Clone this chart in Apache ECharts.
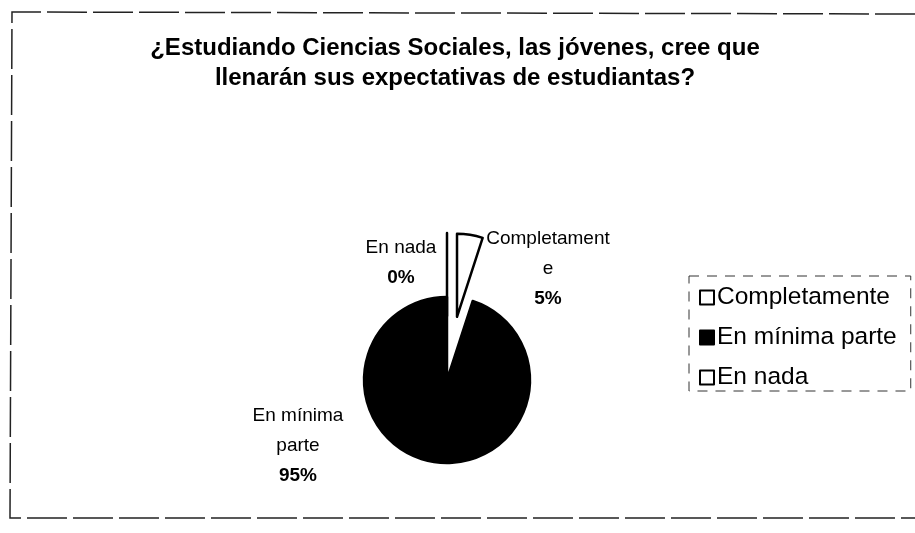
<!DOCTYPE html>
<html>
<head>
<meta charset="utf-8">
<script src="https://cdn.jsdelivr.net/npm/echarts@6/dist/echarts.min.js"></script>
<style>
  html, body { margin: 0; padding: 0; background: #fff; }
  #chart { width: 915px; height: 533px; }
</style>
</head>
<body>
<div id="chart"></div>
<script>
  // datos del gráfico
  var categories = ['Completamente', 'En mínima parte', 'En nada'];
  var values = [5, 95, 0];
  var labelNames = ['Completament\ne', 'En mínima\nparte', 'En nada'];
  var sliceColors = ['#ffffff', '#000000', '#ffffff'];
  var exploded = [true, false, true];

  var labelPos = [[548, 269], [298, 446], [401, 263]];

  var myChart = echarts.init(document.getElementById('chart'));
  var font = '"Liberation Sans", Arial, sans-serif';

  var pieCenter = [447, 380];
  var explodeDist = 64;
  var total = values.reduce(function (a, b) { return a + b; }, 0);

  // centro desplazado de cada porción separada, según su bisectriz
  function explodedCenter(idx) {
    var before = 0;
    for (var k = 0; k < idx; k++) before += values[k];
    var mid = (90 - 360 * (before + values[idx] / 2) / total) * Math.PI / 180;
    return [
      pieCenter[0] + explodeDist * Math.cos(mid),
      pieCenter[1] - explodeDist * Math.sin(mid)
    ];
  }

  // onlyIdx = -1 -> pastel principal; si no, solo esa porción
  function makeData(onlyIdx) {
    return categories.map(function (c, i) {
      var visible = onlyIdx < 0 ? !exploded[i] : i === onlyIdx;
      return {
        name: c,
        value: values[i],
        itemStyle: visible
          ? { color: sliceColors[i], borderColor: '#000', borderWidth: 2.5 }
          : { color: 'rgba(0,0,0,0)', borderWidth: 0 },
        label: { show: visible }
      };
    });
  }

  var labelOpt = {
    position: 'outside',
    formatter: function (p) {
      return '{n|' + labelNames[p.dataIndex] + '}\n{p|' + p.percent + '%}';
    },
    rich: {
      n: { fontFamily: font, fontSize: 19, color: '#000', lineHeight: 30, align: 'center' },
      p: { fontFamily: font, fontSize: 19, fontWeight: 'bold', color: '#000', lineHeight: 30, align: 'center' }
    }
  };

  function layoutLabel(params) {
    var pos = labelPos[params.dataIndex];
    return { x: pos[0], y: pos[1], align: 'center', verticalAlign: 'middle' };
  }

  var baseSeries = {
    type: 'pie',
    radius: 83,
    startAngle: 90,
    clockwise: true,
    percentPrecision: 0,
    avoidLabelOverlap: false,
    emphasis: { disabled: true },
    labelLine: { show: false },
    label: labelOpt,
    labelLayout: layoutLabel
  };

  var series = [Object.assign({}, baseSeries, {
    name: 'principal',
    center: pieCenter,
    data: makeData(-1)
  })];
  exploded.forEach(function (e, i) {
    if (!e) return;
    series.push(Object.assign({}, baseSeries, {
      name: categories[i],
      center: explodedCenter(i),
      data: makeData(i)
    }));
  });

  myChart.setOption({
    animation: false,
    title: {
      text: '¿Estudiando Ciencias Sociales, las jóvenes, cree que\nllenarán sus expectativas de estudiantas?',
      left: 455,
      textAlign: 'center',
      top: 33,
      padding: 0,
      textStyle: {
        fontFamily: font,
        fontSize: 24,
        fontWeight: 'bold',
        color: '#000',
        lineHeight: 30
      }
    },
    legend: {
      orient: 'vertical',
      left: 689,
      top: 276,
      padding: [9, 14, 1, 10],
      icon: 'rect',
      itemWidth: 14,
      itemHeight: 14,
      itemGap: 15,
      borderColor: '#333',
      borderWidth: 1,
      borderType: [10, 8],
      selectedMode: false,
      data: categories.map(function (c, i) {
        return { name: c, itemStyle: { color: sliceColors[i], borderColor: '#000', borderWidth: 2 } };
      }),
      textStyle: { fontFamily: font, fontSize: 24.5, color: '#000', padding: [0, 0, 0, -2] }
    },
    graphic: [{
      type: 'polyline',
      shape: { points: [[915, 14], [12, 12], [10, 518], [915, 518]] },
      style: { fill: null, stroke: '#222', lineWidth: 1.5, lineDash: [40, 6] },
      silent: true
    }],
    series: series
  });
</script>
</body>
</html>
